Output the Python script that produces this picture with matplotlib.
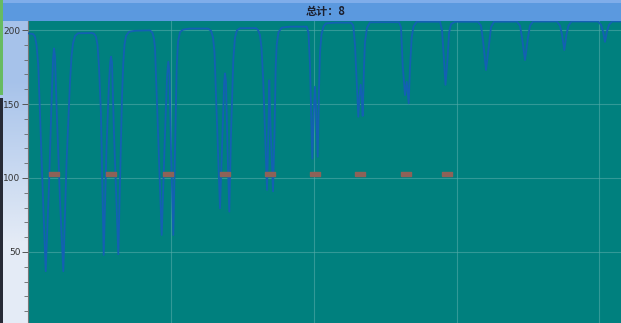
import matplotlib
matplotlib.use('Agg')
import matplotlib.pyplot as plt
import numpy as np
from matplotlib.patches import Rectangle

plt.rcParams['font.family'] = ['Noto Sans CJK SC', 'DejaVu Sans']

titulo = '总计：8'

# curva (x, y)
xs = [0, 3.5, 4.9, 5.95, 7.21, 9.8, 12.39, 14.7, 16.45, 17.5, 18.2, 18.9, 20.3, 22.4, 24.71,
      26.95, 28.7, 29.4, 30.45, 31.5, 32.9, 35, 44.8,
      46.2, 47.6, 48.65, 49.7, 51.1, 52.99, 54.95, 56.7, 57.54, 58.1, 58.8, 60.2, 63.21,
      64.75, 65.8, 66.71, 67.55, 68.6, 70.7, 74.9, 84,
      85.4, 87.15, 88.2, 88.9, 90.3, 93.59, 95.55, 97.3, 98.21, 99.05, 100.1, 101.71,
      102.9, 104.09, 105, 106.4, 108.5, 113.4, 126,
      128.1, 129.5, 130.55, 132.09, 134.4, 136.15, 137.34, 137.9, 138.6, 139.65, 140.91,
      142.1, 143.71, 144.9, 146.3, 148.4, 158.9,
      159.6, 161, 162.4, 163.45, 164.71, 167.3, 168.35, 168.91, 169.61, 171.5, 172.55,
      173.39, 174.09, 175.35, 177.59, 183.4, 195.09,
      196.35, 197.4, 199.01, 200.06, 200.9, 201.74, 202.79, 203.7, 204.4, 205.45, 206.85,
      208.6, 214.9, 226.1,
      227.71, 228.9, 230.09, 231.21, 232.05, 232.89, 233.59, 234.29, 235.2, 235.9, 237.3,
      239.4, 246.4, 259.7,
      261.1, 262.29, 263.9, 265.09, 266.49, 267.4, 268.59, 269.85, 272.09, 288.4,
      289.8, 290.85, 292.25, 293.65, 294.7, 296.1, 298.9, 315,
      317.1, 318.5, 320.6, 322.7, 324.1, 326.2,
      342.3, 344.4, 345.8, 347.9, 350, 351.4, 353.5,
      370.3, 372.4, 373.8, 375.41, 376.95, 378.35, 380.45,
      399, 401.1, 402.5, 403.9, 405.3, 406.7, 408.8, 415.1]
ys = [197.8, 197.3, 195.5, 190, 176, 105, 37, 95, 150, 180, 187.6, 182, 140, 85, 37,
      110, 150, 165, 182, 191, 196, 197.8, 198,
      197.5, 195.5, 190, 175, 142.6, 48, 120, 165, 178, 182, 178, 130, 48.5,
      110, 155, 178, 190, 196, 198.8, 199.5, 199.8,
      199.8, 198, 194, 188, 150, 61.5, 120, 168, 178.6, 170, 120, 61.5,
      120, 175, 192, 198.5, 200.3, 201, 201,
      199.5, 195, 185, 142.6, 79.5, 130, 165, 170.7, 165, 120, 77.3,
      130, 180, 195, 199.8, 201.2, 201.3,
      201.3, 200, 196.5, 188, 165, 92, 135, 166, 140, 91, 130,
      175, 190, 198.5, 201.6, 202.3, 202.3,
      198, 176, 113, 145, 161.7, 145, 114.4, 160, 185, 197, 202.5,
      204.5, 205, 205,
      203, 190, 165, 141.4, 155, 163, 155, 142, 175, 192, 201.5,
      205.2, 205.3, 205.3,
      202, 176, 156, 165, 150.5, 175, 195, 202.5, 205.6, 205.6,
      200, 185, 163, 180, 198, 204, 205.6, 205.6,
      203, 193, 173, 190, 202, 205.6,
      205.7, 203, 195, 179.7, 195, 203, 205.7,
      205.8, 203, 197, 186.5, 197, 203, 205.8,
      205.8, 203.5, 199, 192, 199, 203.5, 205.8, 205.8]

# marcadores vermelhos
marc_x = [18.2, 58.1, 98, 137.9, 169.4, 200.9, 232.4, 264.6, 293.3]
marc_y = [103, 103, 103, 103, 103, 103, 103, 103, 103]

W, H = 621, 323
fig = plt.figure(figsize=(W/100, H/100), dpi=100)
fig.patch.set_facecolor('#d3e0f2')

# fundo da janela
bg = fig.add_axes([0, 0, 28/W, 1])
bg.imshow([[0.0], [1.0]], cmap=matplotlib.colors.LinearSegmentedColormap.from_list(
    'g', ['#a6c2ea', '#e4ebf6']), aspect='auto', interpolation='bilinear',
    extent=[0, 1, 0, 1])
bg.set_axis_off()
fig.patches.append(Rectangle((0, 1 - 21/H), 1, 21/H, transform=fig.transFigure,
                             facecolor='#5b99df', edgecolor='none', zorder=0))
fig.patches.append(Rectangle((0, 1 - 3/H), 1, 3/H, transform=fig.transFigure,
                             facecolor='#7fadea', edgecolor='none', zorder=0))
fig.patches.append(Rectangle((0, 1 - 95/H), 2.5/W, 95/H, transform=fig.transFigure,
                             facecolor='#67bb62', edgecolor='none', zorder=1))
fig.patches.append(Rectangle((0, 0), 2.5/W, 1 - 98/H, transform=fig.transFigure,
                             facecolor='#262a36', edgecolor='none', zorder=1))

ax = fig.add_axes([28/W, 0, 1 - 28/W, 1 - 21/H])
ax.set_facecolor('#00807e')
ax.plot(xs, ys, color='#1360b3', lw=1.3, zorder=3)
ret = [(-1, -0.45), (1, -0.45), (1, 0.45), (-1, 0.45), (-1, -0.45)]
ax.plot(marc_x, marc_y, ls='none', marker=ret, markersize=6.5,
        color='#8e6258', zorder=4)

ax.set_xlim(0, 415.1)
ax.set_ylim(2, 206.1)
ax.set_yticks([50, 100, 150, 200])
ax.set_yticks(np.arange(10, 206, 10), minor=True)
ax.set_xticks([100, 200, 300, 400])
ax.tick_params(axis='x', length=0, labelbottom=False)
ax.tick_params(axis='y', which='major', length=4, width=0.7, color='#555555',
               labelsize=6.5, labelcolor='#333333', pad=1.5)
ax.tick_params(axis='y', which='minor', length=3, width=0.6, color='#666666')
for lbl in ax.get_yticklabels():
    lbl.set_family('DejaVu Sans')
ax.grid(True, which='major', color='#55aaa8', lw=0.8, alpha=0.6)
for s in ['top', 'right', 'bottom']:
    ax.spines[s].set_visible(False)
ax.spines['left'].set_color('#777777')
ax.spines['left'].set_linewidth(0.8)

fig.text(326/W, 1 - 11/H, titulo, ha='center', va='center', fontsize=8,
         fontweight='bold', color='#1b1f2e')

fig.savefig('out.png', dpi=100)
